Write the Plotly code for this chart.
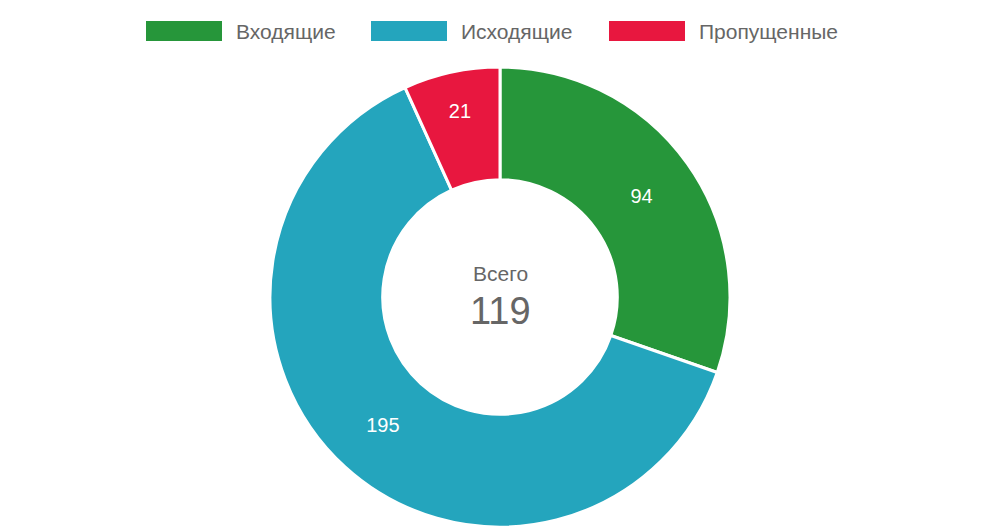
import plotly.graph_objects as go

labels = ["Входящие", "Исходящие", "Пропущенные"]
values = [94, 195, 21]
colors = ["#26963a", "#24a5bd", "#e8173f"]
total_label = "Всего"
total_value = "119"

W, H = 1000, 531
OX, OY = 8, 8  # page body offset compensation
fig = go.Figure(go.Pie(
    labels=labels, values=values, sort=False, direction="clockwise", rotation=0,
    hole=0.51, marker=dict(colors=colors, line=dict(color="white", width=3)),
    textinfo="value", textposition="inside", insidetextorientation="horizontal",
    textfont=dict(color="white", size=20, family="Liberation Sans"),
    domain=dict(x=[(270-OX)/W, (730-OX)/W], y=[(4+OY)/H, (464+OY)/H]), showlegend=False, hoverinfo="label+value"))

shapes, anns = [], []
rect_x = [146, 371, 609]
for lab, c, x0 in zip(labels, colors, rect_x):
    shapes.append(dict(type="rect", xref="paper", yref="paper", x0=(x0-OX)/W, x1=(x0+76-OX)/W,
                       y0=1-(41-OY)/H, y1=1-(21-OY)/H, fillcolor=c, line=dict(width=0)))
    anns.append(dict(text=lab, xref="paper", yref="paper", x=(x0+88-OX)/W, y=1-(31-OY)/H,
                     xanchor="left", yanchor="middle", showarrow=False,
                     font=dict(size=21, color="#666666", family="Liberation Sans")))
anns.append(dict(text=total_label, xref="paper", yref="paper", x=(500-OX)/W, y=1-(273-OY)/H,
                 showarrow=False, font=dict(size=21, color="#666666", family="Liberation Sans")))
anns.append(dict(text=total_value, xref="paper", yref="paper", x=(500-OX)/W, y=1-(311-OY)/H,
                 showarrow=False, font=dict(size=38, color="#666666", family="Liberation Sans")))

fig.update_layout(width=W, height=H, margin=dict(l=0, r=0, t=0, b=0),
                  paper_bgcolor="white", shapes=shapes, annotations=anns,
                  font=dict(family="Liberation Sans"))
fig.write_html("out.html")
